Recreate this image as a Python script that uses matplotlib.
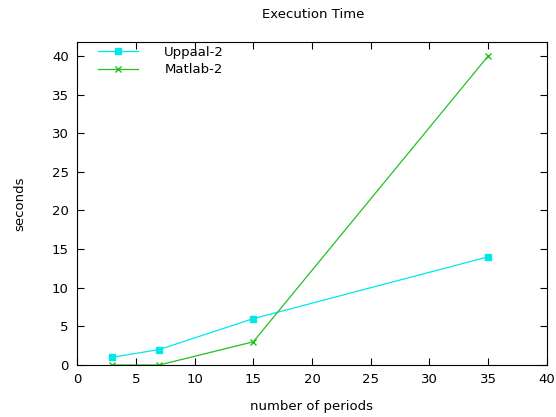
import matplotlib
matplotlib.use("Agg")
import matplotlib.pyplot as plt

periods = [3, 7, 15, 35]
uppaal = [1, 2, 6, 14]
matlab = [0, 0, 3, 40]

fig = plt.figure(figsize=(5.56, 4.17), dpi=100)
ax = fig.add_axes([0.1385, 0.1247, 0.8453, 0.7746])

ax.plot(periods, uppaal, color="#00e8e8", marker="s", markersize=4.5, linewidth=0.9, label="Uppaal-2")
ax.plot(periods, matlab, color="#22c022", marker="x", markersize=5, linewidth=0.9, label="Matlab-2")

ax.set_xlim(0, 40)
ax.set_ylim(0, 41.8)
ax.set_xticks(range(0, 41, 5))
ax.set_yticks(range(0, 41, 5))
ax.tick_params(direction="in", top=True, right=True, labelsize=9.5, length=5, pad=6)
for sp in ax.spines.values():
    sp.set_linewidth(0.8)

ax.set_xlabel("number of periods", fontsize=9.5, labelpad=10)
ax.set_ylabel("seconds", fontsize=9.5, labelpad=18)
fig.text(0.5625, 0.966, "Execution Time", ha="center", va="center", fontsize=9.5)

leg = ax.legend(loc="upper left", frameon=False, fontsize=9.5, handlelength=3.0,
                bbox_to_anchor=(0.02, 1.025), handletextpad=2.0, labelspacing=0.35)

fig.savefig("out.png", dpi=100)
